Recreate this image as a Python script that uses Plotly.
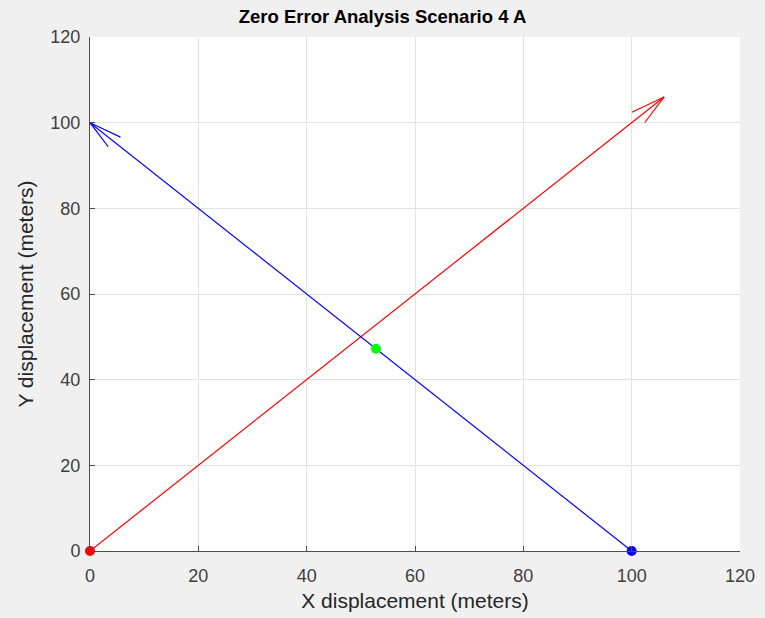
import numpy as np
import plotly.graph_objects as go

# Vector origins and components (meters)
red_origin = [0.0, 0.0]
red_vector = [106.0, 106.0]
blue_origin = [100.0, 0.0]
blue_vector = [-100.0, 100.0]

# Marked points
start_red = [0.0, 0.0]
start_blue = [100.0, 0.0]
intersection = [52.8, 47.2]

axis_ticks = [0, 20, 40, 60, 80, 100, 120]

# quiver-style arrow head parameters
HEAD_ALPHA = 0.045
HEAD_BETA = 0.25

FONT = "Liberation Sans, Arial, Helvetica"


def arrow_xy(origin, vec):
    x0, y0 = origin
    u, v = vec
    tx, ty = x0 + u, y0 + v
    b1 = (tx - HEAD_ALPHA * (u + HEAD_BETA * v), ty - HEAD_ALPHA * (v - HEAD_BETA * u))
    b2 = (tx - HEAD_ALPHA * (u - HEAD_BETA * v), ty - HEAD_ALPHA * (v + HEAD_BETA * u))
    xs = [x0, tx, None, b1[0], tx, b2[0]]
    ys = [y0, ty, None, b1[1], ty, b2[1]]
    return xs, ys


fig = go.Figure()

rx, ry = arrow_xy(red_origin, red_vector)
bx, by = arrow_xy(blue_origin, blue_vector)
fig.add_trace(go.Scatter(x=rx, y=ry, mode="lines", line=dict(color="#ff0000", width=1.2),
                         hoverinfo="skip"))
fig.add_trace(go.Scatter(x=bx, y=by, mode="lines", line=dict(color="#0000ff", width=1.2),
                         hoverinfo="skip"))

for pt, col in [(start_red, "#ff0000"), (start_blue, "#0000ff"), (intersection, "#00ff00")]:
    fig.add_trace(go.Scatter(x=[pt[0]], y=[pt[1]], mode="markers",
                             marker=dict(color=col, size=10, line=dict(width=0)),
                             cliponaxis=False))

axis_common = dict(
    range=[0, 120], tickvals=axis_ticks, ticks="inside", ticklen=5,
    tickcolor="#4d4d4d", showline=True, linecolor="#4d4d4d", linewidth=1,
    showgrid=True, gridcolor="#e3e3e3", gridwidth=1, zeroline=False,
    tickfont=dict(family=FONT, size=18, color="#404040"),
    mirror=False, automargin=False,
)

fig.update_layout(
    width=765, height=618,
    paper_bgcolor="#f0f0f0", plot_bgcolor="#ffffff",
    margin=dict(l=90, r=25, t=37, b=67),
    showlegend=False,
    title=dict(text="<b>Zero Error Analysis Scenario 4 A</b>", x=0.5, xanchor="center",
               y=1 - 17 / 618, yanchor="middle",
               font=dict(family=FONT, size=18.5, color="#000000")),
    xaxis=dict(axis_common, ticklabelstandoff=8,
               title=dict(text="X displacement (meters)", standoff=8,
                          font=dict(family=FONT, size=21, color="#262626"))),
    yaxis=dict(axis_common, ticklabelstandoff=5,
               title=dict(text="Y displacement (meters)", standoff=11,
                          font=dict(family=FONT, size=21, color="#262626"))),
)

fig.write_html("out.html")
